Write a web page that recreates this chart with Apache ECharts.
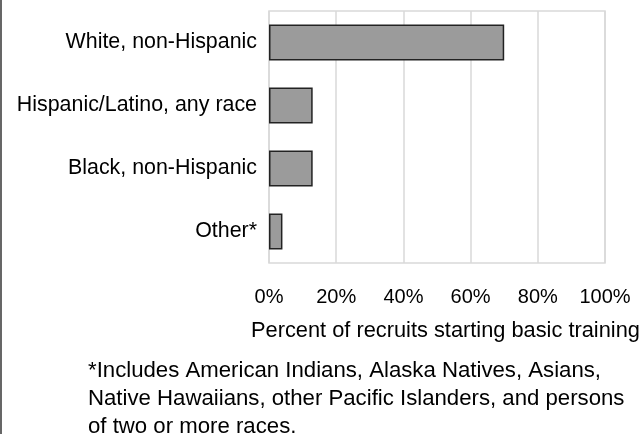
<!DOCTYPE html>
<html><head><meta charset="utf-8">
<script src="https://cdn.jsdelivr.net/npm/echarts@6/dist/echarts.min.js"></script>
<style>html,body{margin:0;padding:0;background:#fff}#c{width:641px;height:434px}</style>
</head><body><div id="c"></div>
<script>
const categories = ["White, non-Hispanic", "Hispanic/Latino, any race", "Black, non-Hispanic", "Other*"];
const values = [70, 13, 13, 4];
const xTicks = [0, 20, 40, 60, 80, 100];
const axisTitle = "Percent of recruits starting basic training";
const footnoteLines = [
  "*Includes American Indians, Alaska Natives, Asians,",
  "Native Hawaiians, other Pacific Islanders, and persons",
  "of two or more races."
];
const font = "Liberation Sans, Arial, sans-serif";
const chart = echarts.init(document.getElementById('c'));
chart.setOption({
  animation: false,
  grid: {left: 269, top: 11, width: 336, height: 252, show: true, borderColor: '#d9d9d9', borderWidth: 1.5, backgroundColor: 'transparent'},
  xAxis: {
    type: 'value', min: 0, max: 100, interval: 20,
    axisLine: {show: false}, axisTick: {show: false},
    splitLine: {show: true, lineStyle: {color: '#d9d9d9', width: 1.5}},
    axisLabel: {formatter: v => xTicks.includes(v) ? v + '%' : '', color: '#000', fontSize: 20, fontFamily: font, margin: 24}
  },
  yAxis: {
    type: 'category', data: categories, inverse: true,
    axisLine: {show: false}, axisTick: {show: false},
    axisLabel: {color: '#000', fontSize: 21.4, fontFamily: font, margin: 12}
  },
  series: [{
    type: 'bar', data: values, barWidth: '57%',
    itemStyle: {color: '#9b9b9b', borderColor: '#222', borderWidth: 1.5}
  }],
  graphic: [
    {type: 'line', shape: {x1: 1, y1: 0, x2: 1, y2: 434}, style: {stroke: '#000', lineWidth: 1.2}},
    {type: 'text', left: 251, top: 317, style: {text: axisTitle, fill: '#000', font: '21.8px ' + font, lineHeight: 28}},
    {type: 'text', left: 88, top: 357, style: {text: footnoteLines.join('\n'), fill: '#000', font: '22.2px ' + font, lineHeight: 28}}
  ]
});
</script></body></html>
